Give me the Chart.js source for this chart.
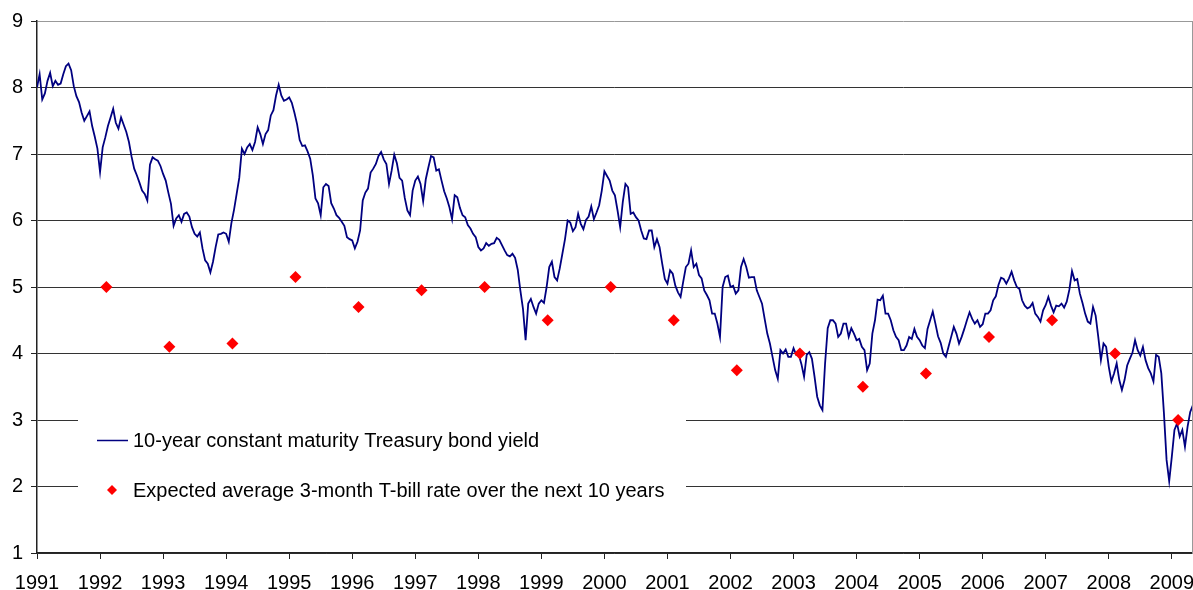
<!DOCTYPE html>
<html>
<head>
<meta charset="utf-8">
<script src="https://cdn.jsdelivr.net/npm/chart.js@4/dist/chart.umd.min.js"></script>
<style>
  html, body { margin: 0; padding: 0; background: #fff; }
  #wrap { width: 1193px; height: 590px; }
</style>
</head>
<body>
<div id="wrap"><canvas id="yieldChart" width="1193" height="590"></canvas></div>
<script>
// 10-year yield (24 points per year from Jan 1991)
const yieldStartYear = 1991;
const yieldPointsPerYear = 24;
const tenYearYield = [
  8.0, 8.2, 7.82, 7.91, 8.1, 8.22, 8.02, 8.1, 8.04, 8.06, 8.2, 8.32, 8.36, 8.26, 8.02, 7.87, 7.78, 7.62, 7.5, 7.57, 7.64, 7.42, 7.26, 7.08,
  6.73, 7.1, 7.25, 7.42, 7.55, 7.68, 7.47, 7.38, 7.55, 7.44, 7.33, 7.18, 6.96, 6.78, 6.68, 6.57, 6.45, 6.4, 6.3, 6.84, 6.95, 6.92, 6.9, 6.82,
  6.7, 6.6, 6.42, 6.25, 5.92, 6.03, 6.08, 5.98, 6.1, 6.12, 6.06, 5.9, 5.8, 5.76, 5.82, 5.58, 5.4, 5.35, 5.22, 5.38, 5.6, 5.79, 5.8, 5.82,
  5.8, 5.68, 5.96, 6.16, 6.4, 6.64, 7.08, 7.0, 7.1, 7.15, 7.06, 7.18, 7.4, 7.3, 7.15, 7.3, 7.36, 7.58, 7.66, 7.88, 8.04, 7.88, 7.8, 7.82,
  7.85, 7.77, 7.62, 7.45, 7.21, 7.12, 7.13, 7.04, 6.93, 6.68, 6.33, 6.26, 6.08, 6.5, 6.55, 6.52, 6.26, 6.18, 6.08, 6.04, 5.98, 5.92, 5.75, 5.72,
  5.7, 5.58, 5.68, 5.85, 6.3, 6.42, 6.48, 6.72, 6.78, 6.85, 6.97, 7.03, 6.92, 6.85, 6.55, 6.75, 6.99, 6.86, 6.64, 6.6, 6.34, 6.15, 6.08, 6.45,
  6.6, 6.66, 6.55, 6.29, 6.62, 6.8, 6.97, 6.95, 6.75, 6.77, 6.6, 6.44, 6.33, 6.2, 6.02, 6.38, 6.35, 6.19, 6.08, 6.05, 5.93, 5.88, 5.8, 5.75,
  5.6, 5.55, 5.58, 5.66, 5.62, 5.65, 5.66, 5.74, 5.71, 5.63, 5.55, 5.48, 5.46, 5.5, 5.44, 5.26, 4.95, 4.67, 4.2, 4.75, 4.82, 4.7, 4.6, 4.75,
  4.8, 4.76, 5.0, 5.3, 5.38, 5.15, 5.1, 5.28, 5.5, 5.72, 6.0, 5.97, 5.84, 5.9, 6.1, 5.95, 5.87, 6.01, 6.06, 6.21, 6.02, 6.12, 6.23, 6.45,
  6.74, 6.67, 6.6, 6.45, 6.38, 6.15, 5.9, 6.28, 6.55, 6.5, 6.1, 6.12, 6.05, 6.0, 5.85, 5.73, 5.72, 5.85, 5.85, 5.6, 5.72, 5.6, 5.35, 5.12,
  5.05, 5.25, 5.2, 5.02, 4.92, 4.85, 5.08, 5.3, 5.35, 5.55, 5.3, 5.35, 5.18, 5.13, 4.95, 4.88, 4.8, 4.6, 4.6, 4.45, 4.25, 5.0, 5.15, 5.17,
  5.0, 5.02, 4.9, 4.95, 5.3, 5.42, 5.3, 5.14, 5.15, 5.15, 4.95, 4.85, 4.75, 4.52, 4.3, 4.15, 3.95, 3.75, 3.62, 4.05, 4.0, 4.06, 3.95, 3.95,
  4.08, 3.98, 3.98, 3.84, 3.65, 3.98, 4.02, 3.92, 3.65, 3.35, 3.22, 3.15, 3.85, 4.38, 4.5, 4.5, 4.45, 4.25, 4.3, 4.45, 4.45, 4.25, 4.38, 4.3,
  4.2, 4.22, 4.1, 4.05, 3.75, 3.85, 4.3, 4.5, 4.81, 4.8, 4.87, 4.6, 4.6, 4.5, 4.35, 4.25, 4.2, 4.05, 4.05, 4.12, 4.25, 4.22, 4.37, 4.25,
  4.2, 4.12, 4.08, 4.37, 4.5, 4.63, 4.45, 4.26, 4.16, 4.0, 3.95, 4.1, 4.25, 4.4, 4.3, 4.15, 4.25, 4.37, 4.5, 4.62, 4.52, 4.45, 4.5, 4.4,
  4.44, 4.6, 4.6, 4.65, 4.8, 4.86, 5.03, 5.14, 5.12, 5.05, 5.13, 5.23, 5.1, 5.0, 4.97, 4.8, 4.72, 4.68, 4.7, 4.76, 4.6, 4.55, 4.48, 4.65,
  4.73, 4.85, 4.72, 4.62, 4.72, 4.71, 4.75, 4.69, 4.78, 4.96, 5.24, 5.1, 5.12, 4.9, 4.76, 4.6, 4.48, 4.45, 4.7, 4.57, 4.25, 3.9, 4.15, 4.1,
  3.8, 3.58, 3.7, 3.85, 3.6, 3.45, 3.6, 3.82, 3.92, 4.01, 4.2, 4.05, 3.97, 4.1, 3.9, 3.78, 3.7, 3.58, 3.98, 3.95, 3.7, 3.1, 2.4, 2.08,
  2.45, 2.85, 2.95, 2.75, 2.85, 2.6, 2.9, 3.12, 3.22
];

// expected average 3-month T-bill rate (one survey point a year)
const forecastYears = [1992.1, 1993.1, 1994.1, 1995.1, 1996.1, 1997.1, 1998.1, 1999.1, 2000.1,
                       2001.1, 2002.1, 2003.1, 2004.1, 2005.1, 2006.1, 2007.1, 2008.1, 2009.1];
const forecastRates = [5.0, 4.1, 4.15, 5.15, 4.7, 4.95, 5.0, 4.5, 5.0,
                       4.5, 3.75, 4.0, 3.5, 3.7, 4.25, 4.5, 4.0, 3.0];

const xMin = 1991;
const xMax = 2009.32;
const yMin = 1;
const yMax = 9;

const seriesLabels = [
  '10-year constant maturity Treasury bond yield',
  'Expected average 3-month T-bill rate over the next 10 years'
];
const lineColor = '#000080';
const diamondColor = '#ff0000';

const yieldPoints = tenYearYield.map((v, i) => ({ x: yieldStartYear + i / yieldPointsPerYear, y: v }));
const forecastPoints = forecastYears.map((yr, i) => ({ x: yr, y: forecastRates[i] }));

// white box with the two legend entries, sitting over the lower grid lines
const boxLegend = {
  id: 'boxLegend',
  beforeDatasetsDraw(chart) {
    const ctx = chart.ctx;
    const area = chart.chartArea;
    ctx.save();
    // plot area edge on the right
    ctx.strokeStyle = '#999';
    ctx.lineWidth = 1;
    ctx.beginPath();
    ctx.moveTo(area.right + 0.5, area.top);
    ctx.lineTo(area.right + 0.5, area.bottom);
    ctx.stroke();

    ctx.fillStyle = '#fff';
    ctx.fillRect(78, 404, 608, 100);

    ctx.strokeStyle = lineColor;
    ctx.lineWidth = 1.5;
    ctx.beginPath();
    ctx.moveTo(97, 440.5);
    ctx.lineTo(128, 440.5);
    ctx.stroke();

    ctx.fillStyle = diamondColor;
    ctx.beginPath();
    ctx.moveTo(112, 485);
    ctx.lineTo(117, 490);
    ctx.lineTo(112, 495);
    ctx.lineTo(107, 490);
    ctx.closePath();
    ctx.fill();

    ctx.fillStyle = '#000';
    ctx.font = "20px 'Liberation Sans', Arial, sans-serif";
    ctx.textBaseline = 'middle';
    ctx.textAlign = 'left';
    ctx.fillText(seriesLabels[0], 133, 441);
    ctx.fillText(seriesLabels[1], 133, 491);
    ctx.restore();
  }
};

Chart.defaults.font.family = "'Liberation Sans', Arial, sans-serif";
Chart.defaults.font.size = 20;
Chart.defaults.color = '#000';

new Chart(document.getElementById('yieldChart'), {
  type: 'line',
  data: {
    datasets: [
      {
        label: seriesLabels[1],
        data: forecastPoints,
        showLine: false,
        pointStyle: 'rectRot',
        pointRadius: 6,
        pointBorderWidth: 0,
        backgroundColor: diamondColor,
        borderColor: diamondColor,
        order: 0
      },
      {
        label: seriesLabels[0],
        data: yieldPoints,
        borderColor: lineColor,
        borderWidth: 1.8,
        pointRadius: 0,
        tension: 0,
        order: 1
      }
    ]
  },
  options: {
    responsive: false,
    animation: false,
    devicePixelRatio: 1,
    layout: { autoPadding: false, padding: { top: 21, right: 1, bottom: 0, left: 0 } },
    plugins: { legend: { display: false }, tooltip: { enabled: false } },
    scales: {
      x: {
        type: 'linear',
        min: xMin,
        max: xMax,
        grid: { drawOnChartArea: false, drawTicks: true, tickLength: 6, color: '#222' },
        border: { color: '#222', width: 1.5 },
        ticks: {
          stepSize: 1,
          includeBounds: false,
          autoSkip: false,
          maxRotation: 0,
          padding: 12,
          callback: v => String(v)
        },
        afterFit(scale) {
          scale.height = 37;
          scale.paddingLeft = 0;
          scale.paddingRight = 0;
        }
      },
      y: {
        min: yMin,
        max: yMax,
        grid: {
          color: c => (c.tick && c.tick.value === yMax ? '#999' : '#333'),
          lineWidth: 1,
          drawTicks: true,
          tickLength: 6,
          tickColor: '#222'
        },
        border: { color: '#222', width: 1.5 },
        ticks: { stepSize: 1, padding: 8 },
        afterFit(scale) {
          scale.width = 37;
          scale.paddingTop = 0;
          scale.paddingBottom = 0;
        }
      }
    }
  },
  plugins: [boxLegend]
});
</script>
</body>
</html>
